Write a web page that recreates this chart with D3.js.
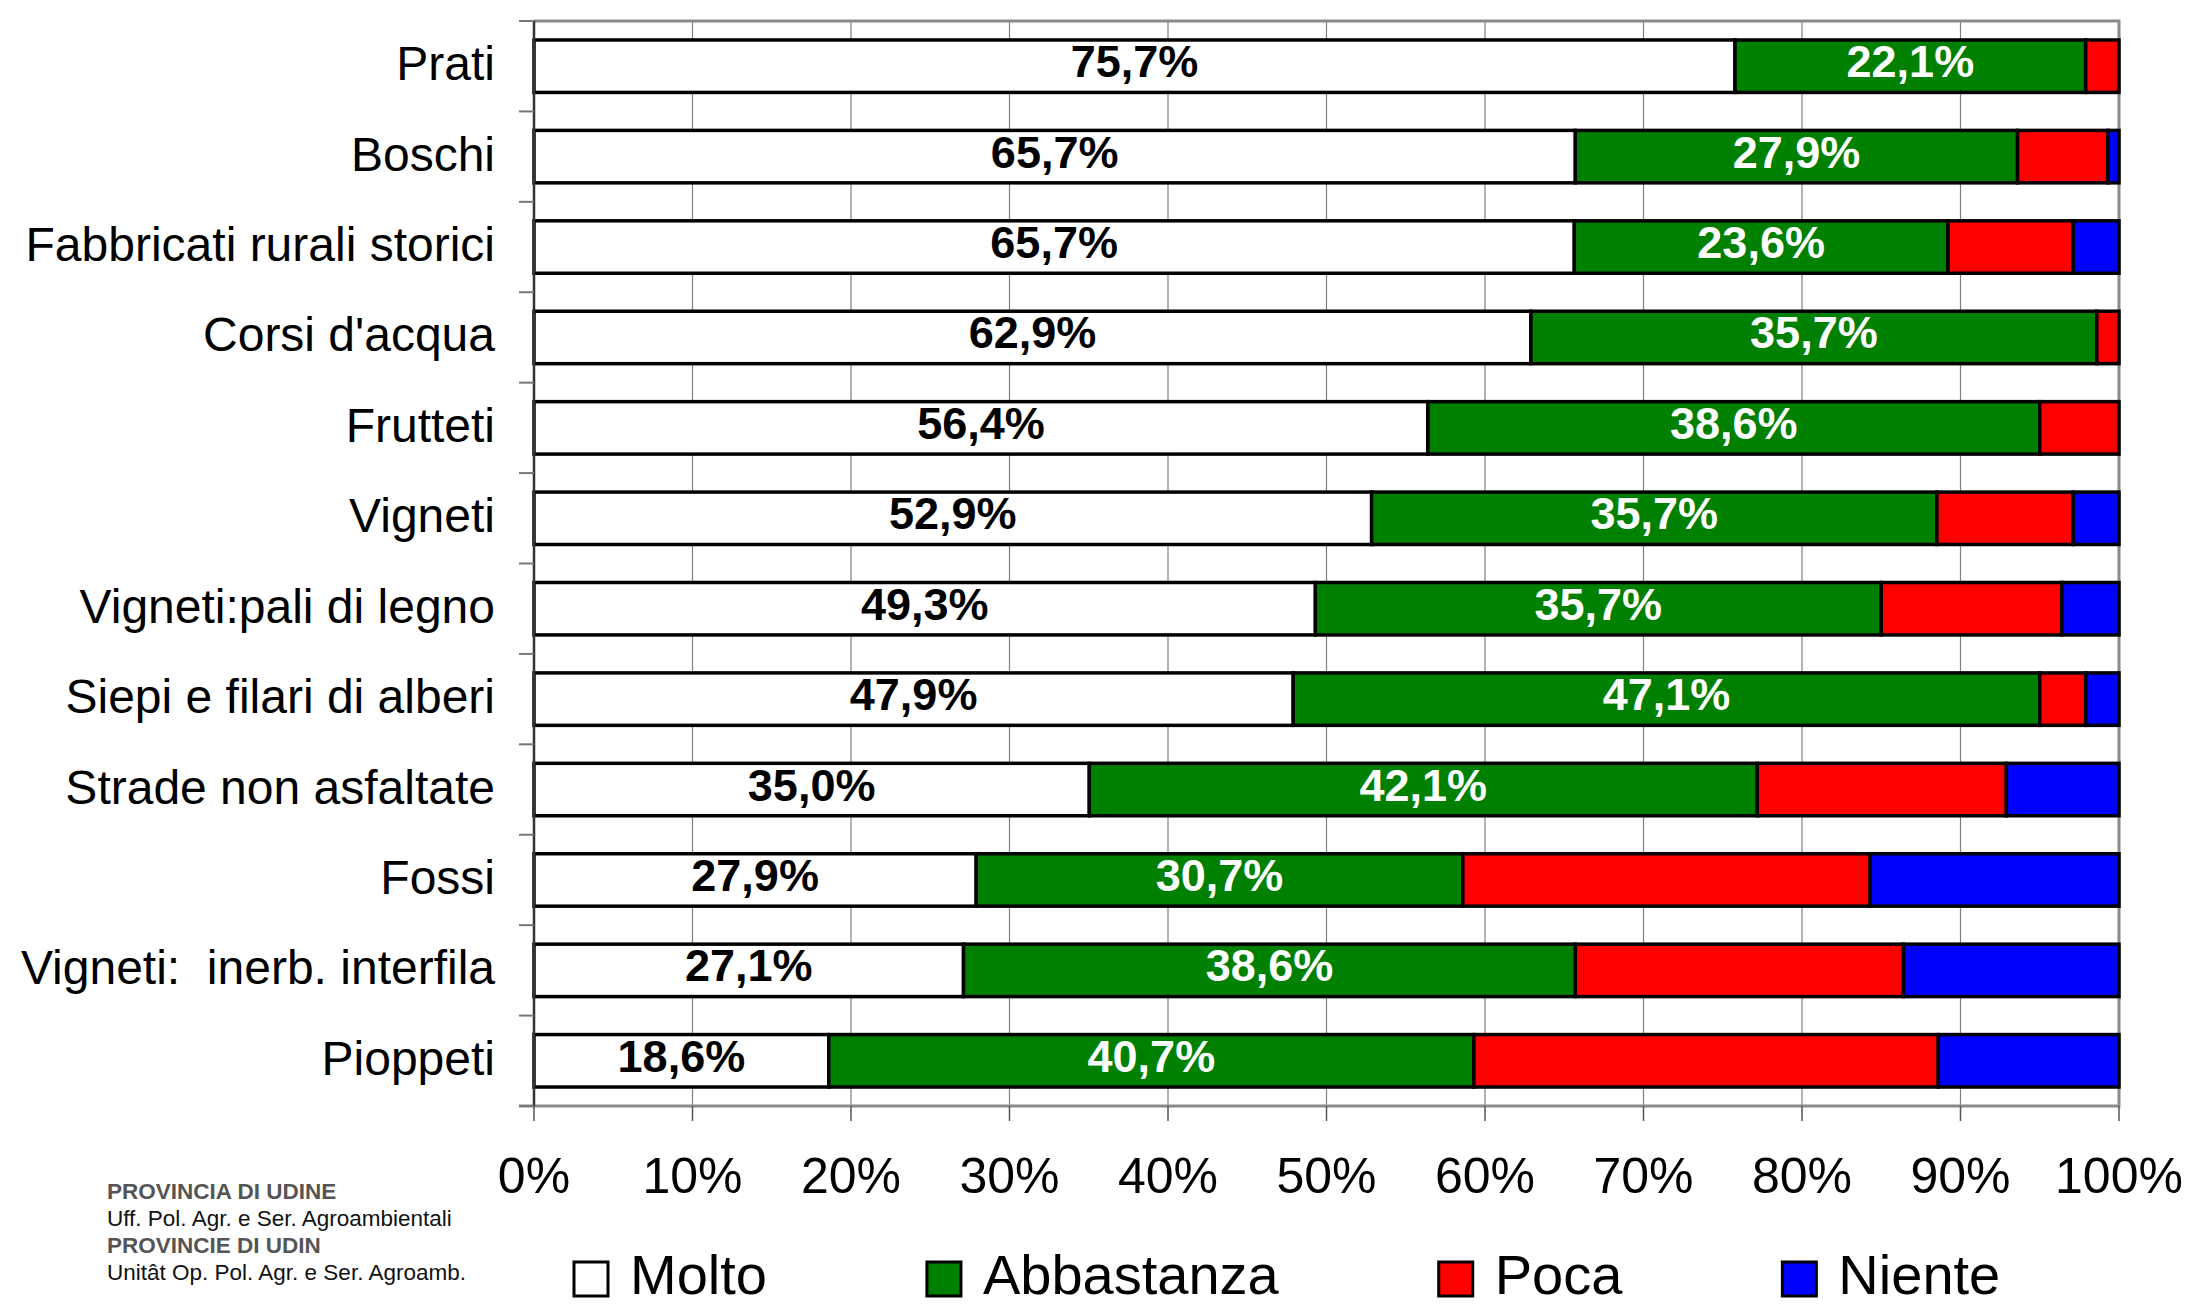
<!DOCTYPE html>
<html>
<head>
<meta charset="utf-8">
<script src="https://cdn.jsdelivr.net/npm/d3@7"></script>
<style>
    body { margin: 0; background: #fff; }
    svg { display: block; font-family: "Liberation Sans", Arial, sans-serif; }
</style>
</head>
<body>
<svg width="2189" height="1307"></svg>
<script>
// categories, top to bottom
const categories = [
    "Prati", "Boschi", "Fabbricati rurali storici", "Corsi d'acqua", "Frutteti",
    "Vigneti", "Vigneti:pali di legno", "Siepi e filari di alberi",
    "Strade non asfaltate", "Fossi", "Vigneti:  inerb. interfila", "Pioppeti"
];

// percentages per series
const molto      = [75.7, 65.7, 65.7, 62.9, 56.4, 52.9, 49.3, 47.9, 35.0, 27.9, 27.1, 18.6];
const abbastanza = [22.1, 27.9, 23.6, 35.7, 38.6, 35.7, 35.7, 47.1, 42.1, 30.7, 38.6, 40.7];
const poca       = [2.1, 5.7, 7.9, 1.4, 5.0, 8.6, 11.4, 2.9, 15.7, 25.7, 20.7, 29.3];
const niente     = [0, 0.7, 2.9, 0, 0, 2.9, 3.6, 2.1, 7.1, 15.7, 13.6, 11.4];

const seriesNames = ["Molto", "Abbastanza", "Poca", "Niente"];
const seriesColors = ["#ffffff", "#008000", "#ff0000", "#0000ff"];
const xTicks = [0, 0.1, 0.2, 0.3, 0.4, 0.5, 0.6, 0.7, 0.8, 0.9, 1];

const footer = [
    { text: "PROVINCIA DI UDINE", bold: true },
    { text: "Uff. Pol. Agr. e Ser. Agroambientali", bold: false },
    { text: "PROVINCIE DI UDIN", bold: true },
    { text: "Unitât Op. Pol. Agr. e Ser. Agroamb.", bold: false }
];

// build table for the stack
const rows = categories.map((c, i) => ({
    cat: c,
    Molto: molto[i],
    Abbastanza: abbastanza[i],
    Poca: poca[i],
    Niente: niente[i]
}));

const svg = d3.select("svg");
const plotL = 534, plotR = 2119, plotT = 21, plotB = 1106;

const x = d3.scaleLinear().domain([0, 1]).range([plotL, plotR]);
const y = d3.scaleBand()
    .domain(categories)
    .range([plotT, plotB])
    .paddingInner(0.42)
    .paddingOuter(0.21);
const color = d3.scaleOrdinal().domain(seriesNames).range(seriesColors);

const it = d3.formatLocale({ decimal: ",", thousands: ".", grouping: [3], currency: ["", "€"] });
const pct = it.format(".1%");

const stacked = d3.stack()
    .keys(seriesNames)
    .offset(d3.stackOffsetExpand)(rows);

// gridlines
svg.append("g")
    .selectAll("line")
    .data(xTicks.slice(1, -1))
    .join("line")
    .attr("x1", d => x(d)).attr("x2", d => x(d))
    .attr("y1", plotT).attr("y2", plotB)
    .attr("stroke", "#808080")
    .attr("stroke-width", 1.2);

// plot frame (top, right, bottom)
svg.append("path")
    .attr("d", `M${plotL},${plotT}H${plotR}V${plotB}H${plotL - 15}`)
    .attr("fill", "none")
    .attr("stroke", "#8a8a8a")
    .attr("stroke-width", 3);

// bars
const layer = svg.append("g")
    .selectAll("g")
    .data(stacked)
    .join("g")
    .attr("fill", d => color(d.key));

layer.selectAll("rect")
    .data(d => d.filter(s => s[1] - s[0] > 0))
    .join("rect")
    .attr("x", d => x(d[0]))
    .attr("y", d => y(d.data.cat))
    .attr("width", d => x(d[1]) - x(d[0]))
    .attr("height", y.bandwidth())
    .attr("stroke", "#000")
    .attr("stroke-width", 3.5);

// value labels on first two series
stacked.slice(0, 2).forEach((s, si) => {
    svg.append("g")
        .selectAll("text")
        .data(s)
        .join("text")
        .attr("x", d => x((d[0] + d[1]) / 2))
        .attr("y", d => y(d.data.cat) + y.bandwidth() / 2 + 11)
        .attr("text-anchor", "middle")
        .attr("font-size", 45)
        .attr("font-weight", "bold")
        .attr("fill", si === 0 ? "#000" : "#fff")
        .text(d => pct(d.data[s.key] / 100));
});

// y axis
const yAxis = svg.append("g");
yAxis.append("line")
    .attr("x1", plotL).attr("x2", plotL)
    .attr("y1", plotT).attr("y2", plotB)
    .attr("stroke", "#333")
    .attr("stroke-width", 2.5);
const yBounds = categories.map(c => y(c) - y.step() * y.paddingOuter()).concat([plotB]);
yAxis.selectAll(".tick")
    .data(yBounds)
    .join("line")
    .attr("x1", plotL - 15).attr("x2", plotL)
    .attr("y1", d => d).attr("y2", d => d)
    .attr("stroke", "#777")
    .attr("stroke-width", 2);
yAxis.selectAll("text")
    .data(categories)
    .join("text")
    .attr("x", 495)
    .attr("y", d => y(d) + y.bandwidth() / 2 + 14)
    .attr("text-anchor", "end")
    .attr("font-size", 48)
    .attr("fill", "#000")
    .style("white-space", "pre")
    .text(d => d);

// x axis
const xAxis = svg.append("g");
xAxis.selectAll("line")
    .data(xTicks)
    .join("line")
    .attr("x1", d => x(d)).attr("x2", d => x(d))
    .attr("y1", plotB).attr("y2", plotB + 15)
    .attr("stroke", "#555")
    .attr("stroke-width", 1.5);
xAxis.selectAll("text")
    .data(xTicks)
    .join("text")
    .attr("x", d => x(d))
    .attr("y", 1193)
    .attr("text-anchor", "middle")
    .attr("font-size", 50)
    .attr("fill", "#000")
    .text(d => d3.format(".0%")(d));

// legend
const legend = svg.append("g");
let lx = 574;
seriesNames.forEach(name => {
    legend.append("rect")
        .attr("x", lx).attr("y", 1262)
        .attr("width", 34).attr("height", 34)
        .attr("fill", color(name))
        .attr("stroke", "#000")
        .attr("stroke-width", 3);
    const t = legend.append("text")
        .attr("x", lx + 56)
        .attr("y", 1294)
        .attr("font-size", 56)
        .attr("fill", "#000")
        .text(name);
    lx += 56 + t.node().getComputedTextLength() + 160;
});

// footer credits
svg.append("g")
    .selectAll("text")
    .data(footer)
    .join("text")
    .attr("x", 107)
    .attr("y", (d, i) => 1199 + i * 27)
    .attr("font-size", 22.5)
    .attr("font-weight", d => d.bold ? "bold" : "normal")
    .attr("fill", d => d.bold ? "#555" : "#111")
    .text(d => d.text);
</script>
</body>
</html>
